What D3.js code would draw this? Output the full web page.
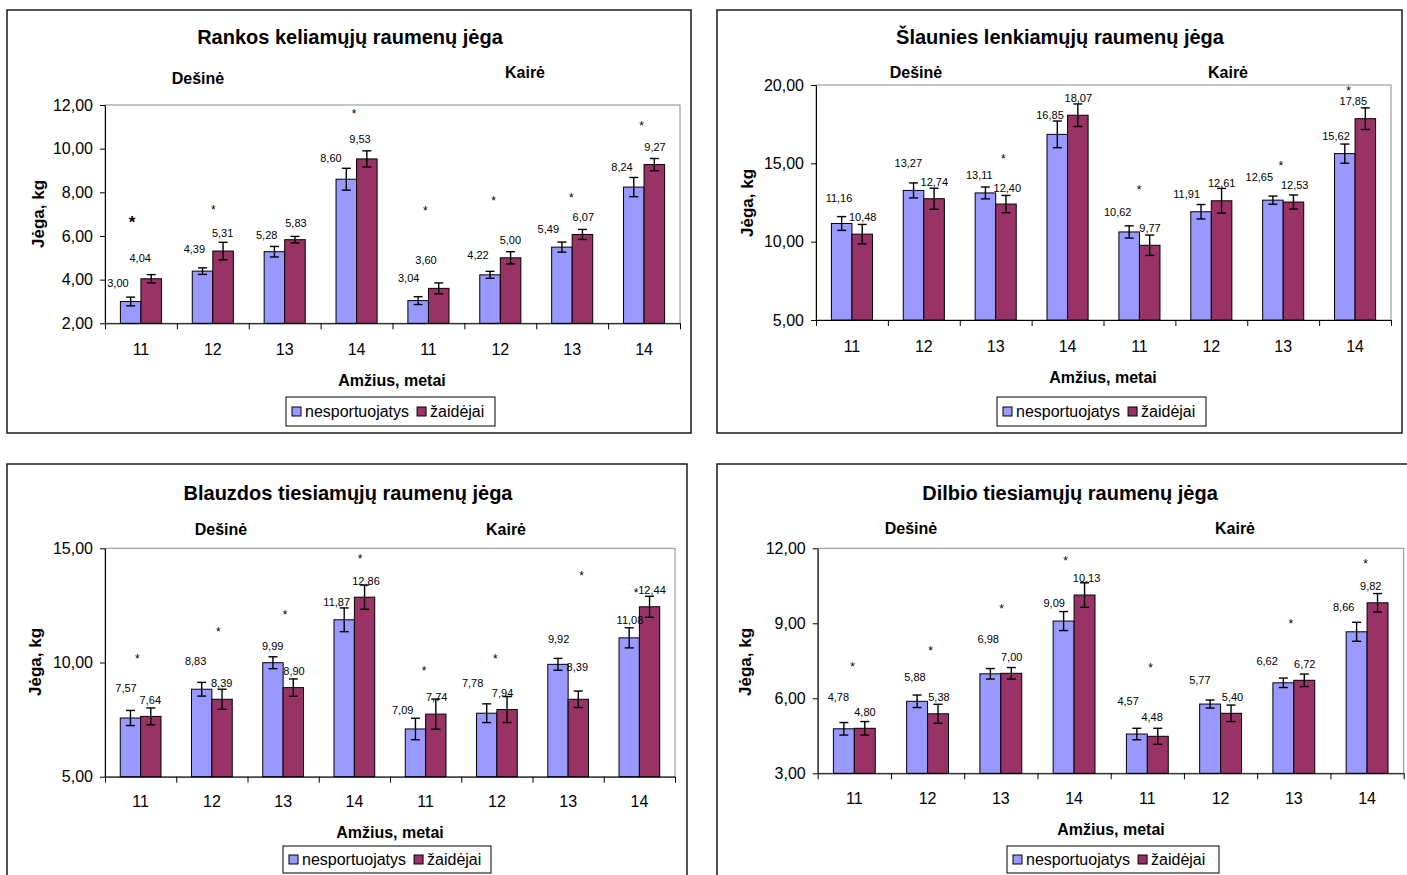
<!DOCTYPE html>
<html>
<head>
<meta charset="utf-8">
<script src="https://cdn.jsdelivr.net/npm/d3@7"></script>
<style>
  body { margin: 0; background: #fff; }
  svg text { font-family: "Liberation Sans", Arial, Helvetica, sans-serif; fill: #000; }
</style>
</head>
<body>
<svg id="chart" width="1407" height="875"></svg>
<script>
// ---- shared categories ----
const categories = ["11", "12", "13", "14", "11", "12", "13", "14"];
const sideNames = ["Dešinė", "Kairė"];
const seriesNames = ["nesportuojatys", "žaidėjai"];
const xAxisTitle = "Amžius, metai";
const yAxisTitle = "Jėga, kg";

// ---- Rankos keliamųjų raumenų jėga ----
const rankNesp    = [3.00, 4.39, 5.28, 8.60, 3.04, 4.22, 5.49, 8.24];
const rankZaid    = [4.04, 5.31, 5.83, 9.53, 3.60, 5.00, 6.07, 9.27];
const rankNespErr = [0.20, 0.15, 0.24, 0.50, 0.18, 0.16, 0.23, 0.44];
const rankZaidErr = [0.19, 0.40, 0.15, 0.37, 0.25, 0.28, 0.23, 0.28];
const rankTicks   = [2, 4, 6, 8, 10, 12];

// ---- Šlaunies lenkiamųjų raumenų jėga ----
const slNesp    = [11.16, 13.27, 13.11, 16.85, 10.62, 11.91, 12.65, 15.62];
const slZaid    = [10.48, 12.74, 12.40, 18.07, 9.77, 12.61, 12.53, 17.85];
const slNespErr = [0.44, 0.48, 0.38, 0.85, 0.39, 0.46, 0.26, 0.61];
const slZaidErr = [0.62, 0.67, 0.55, 0.72, 0.65, 0.79, 0.45, 0.69];
const slTicks   = [5, 10, 15, 20];

// ---- Blauzdos tiesiamųjų raumenų jėga ----
const blNesp    = [7.57, 8.83, 9.99, 11.87, 7.09, 7.78, 9.92, 11.08];
const blZaid    = [7.64, 8.39, 8.90, 12.86, 7.74, 7.94, 8.39, 12.44];
const blNespErr = [0.33, 0.30, 0.26, 0.52, 0.47, 0.41, 0.26, 0.44];
const blZaidErr = [0.37, 0.44, 0.38, 0.53, 0.66, 0.57, 0.36, 0.46];
const blTicks   = [5, 10, 15];

// ---- Dilbio tiesiamųjų raumenų jėga ----
const dbNesp    = [4.78, 5.88, 6.98, 9.09, 4.57, 5.77, 6.62, 8.66];
const dbZaid    = [4.80, 5.38, 7.00, 10.13, 4.48, 5.40, 6.72, 9.82];
const dbNespErr = [0.25, 0.25, 0.21, 0.38, 0.23, 0.16, 0.19, 0.38];
const dbZaidErr = [0.27, 0.38, 0.23, 0.49, 0.32, 0.33, 0.25, 0.37];
const dbTicks   = [3, 6, 9, 12];

// ---- annotation anchors in chart units: [category position, value height] ----
const rankNespLabelAt = [[0.18,3.86],[1.243,5.42],[2.25,6.06],[3.144,9.56],[4.225,4.06],[5.19,5.13],[6.168,6.33],[7.193,9.15]];
const rankZaidLabelAt = [[0.49,5.00],[1.637,6.12],[2.657,6.61],[3.548,10.44],[4.466,4.90],[5.64,5.82],[6.655,6.88],[7.652,10.06]];
const rankStars = [[0.375,6.83,1],[1.507,7.34],[3.464,11.74],[4.456,7.26],[5.408,7.72],[6.488,7.86],[7.467,11.16]];

const slNespLabelAt = [[0.32,12.81],[1.284,15.04],[2.272,14.26],[3.256,18.09],[4.197,11.87],[5.157,13.02],[6.168,14.11],[7.235,16.77]];
const slZaidLabelAt = [[0.65,11.57],[1.646,13.83],[2.662,13.43],[3.65,19.19],[4.647,10.87],[5.644,13.74],[6.66,13.64],[7.476,18.96]];
const slStars = [[2.606,15.47],[4.494,13.51],[6.466,15.0],[7.41,19.78]];

const blNespLabelAt = [[0.295,8.90],[1.272,10.07],[2.354,10.72],[3.252,12.65],[4.178,7.91],[5.16,9.09],[6.367,11.03],[7.368,11.86]];
const blZaidLabelAt = [[0.636,8.35],[1.638,9.09],[2.653,9.64],[3.663,13.57],[4.655,8.49],[5.58,8.66],[6.629,9.79],[7.677,13.16]];
const blStars = [[0.454,10.28],[1.59,11.45],[2.526,12.21],[3.579,14.66],[4.477,9.77],[5.478,10.28],[6.69,13.91],[7.453,13.16]];

const dbNespLabelAt = [[0.282,6.06],[1.328,6.86],[2.329,8.36],[3.229,9.80],[4.238,5.89],[5.217,6.73],[6.135,7.49],[7.181,9.64]];
const dbZaidLabelAt = [[0.645,5.44],[1.655,6.06],[2.648,7.66],[3.671,10.82],[4.566,5.26],[5.663,6.06],[6.649,7.37],[7.55,10.49]];
const dbStars = [[0.477,7.36],[1.542,8.0],[2.51,9.70],[3.384,11.6],[4.544,7.34],[6.458,9.10],[7.481,11.50]];

const colors = ["#9999FF", "#993366"];
const fmt = v => d3.format(".2f")(v).replace(".", ",");

const panels = [
  {
    title: "Rankos keliamųjų raumenų jėga",
    values: [rankNesp, rankZaid], errors: [rankNespErr, rankZaidErr],
    labelAt: [rankNespLabelAt, rankZaidLabelAt], stars: rankStars,
    domain: [2, 12], ticks: rankTicks,
    frame: { x: 7, y: 10, w: 684, h: 423 },
    plot: { x: 105, y: 105, w: 575, h: 218.3 },
    titleAt: [350, 37], sideAt: [[198, 78], [525, 72]], xTitleAt: [392, 380], xTickY: 349,
    legend: { x: 286, y: 397, w: 209, h: 29 }, yTitleAt: [38, 214]
  },
  {
    title: "Šlaunies lenkiamųjų raumenų jėga",
    values: [slNesp, slZaid], errors: [slNespErr, slZaidErr],
    labelAt: [slNespLabelAt, slZaidLabelAt], stars: slStars,
    domain: [5, 20], ticks: slTicks,
    frame: { x: 717, y: 10, w: 685, h: 423 },
    plot: { x: 816, y: 85, w: 575, h: 235 },
    titleAt: [1060, 37], sideAt: [[916, 72], [1228, 72]], xTitleAt: [1103, 377], xTickY: 346,
    legend: { x: 997, y: 397, w: 209, h: 29 }, yTitleAt: [747, 203]
  },
  {
    title: "Blauzdos tiesiamųjų raumenų jėga",
    values: [blNesp, blZaid], errors: [blNespErr, blZaidErr],
    labelAt: [blNespLabelAt, blZaidLabelAt], stars: blStars,
    domain: [5, 15], ticks: blTicks,
    frame: { x: 7, y: 464, w: 680, h: 430 },
    plot: { x: 105, y: 548.3, w: 570, h: 228.4 },
    titleAt: [348, 493], sideAt: [[221, 529], [506, 529]], xTitleAt: [390, 832], xTickY: 801,
    legend: { x: 283, y: 846, w: 208, h: 27 }, yTitleAt: [35, 662]
  },
  {
    title: "Dilbio tiesiamųjų raumenų jėga",
    values: [dbNesp, dbZaid], errors: [dbNespErr, dbZaidErr],
    labelAt: [dbNespLabelAt, dbZaidLabelAt], stars: dbStars,
    domain: [3, 12], ticks: dbTicks,
    frame: { x: 717, y: 464, w: 700, h: 430 },
    plot: { x: 817.7, y: 548.3, w: 586, h: 225 },
    titleAt: [1070, 493], sideAt: [[911, 528], [1235, 528]], xTitleAt: [1111, 829], xTickY: 798,
    legend: { x: 1007, y: 846, w: 212, h: 27 }, yTitleAt: [745, 662]
  }
];

const svg = d3.select("#chart");

function drawPanel(p) {
  const g = svg.append("g");
  const P = p.plot;

  // outer chart frame
  g.append("rect")
    .attr("x", p.frame.x).attr("y", p.frame.y)
    .attr("width", p.frame.w).attr("height", p.frame.h)
    .attr("fill", "#fff").attr("stroke", "#1a1a1a").attr("stroke-width", 1.5);

  // scales
  const idx = d3.range(categories.length);
  const x = d3.scaleBand().domain(idx).range([P.x, P.x + P.w]).padding(0);
  const xs = d3.scaleBand().domain([0, 1]).range([0, x.bandwidth()])
    .paddingInner(0).paddingOuter(0.75);
  const xc = d3.scaleLinear().domain([0, categories.length]).range([P.x, P.x + P.w]);
  const y = d3.scaleLinear().domain(p.domain).range([P.y + P.h, P.y]);

  // plot-area border
  g.append("rect")
    .attr("x", P.x).attr("y", P.y).attr("width", P.w).attr("height", P.h)
    .attr("fill", "none").attr("stroke", "#8c8c8c").attr("stroke-width", 1);

  // bars
  const bars = [];
  [0, 1].forEach(s => p.values[s].forEach((v, i) => bars.push({ s, i, v, e: p.errors[s][i] })));

  g.append("g").selectAll("rect").data(bars).join("rect")
    .attr("x", d => x(d.i) + xs(d.s))
    .attr("y", d => y(d.v))
    .attr("width", xs.bandwidth())
    .attr("height", d => y(p.domain[0]) - y(d.v))
    .attr("fill", d => colors[d.s])
    .attr("stroke", "#000").attr("stroke-width", 1);

  // error bars
  const eg = g.append("g").attr("stroke", "#000").attr("stroke-width", 1.4);
  const cap = 4.5;
  bars.forEach(d => {
    const cx = x(d.i) + xs(d.s) + xs.bandwidth() / 2;
    const y0 = y(d.v - d.e), y1 = y(d.v + d.e);
    eg.append("line").attr("x1", cx).attr("x2", cx).attr("y1", y0).attr("y2", y1);
    eg.append("line").attr("x1", cx - cap).attr("x2", cx + cap).attr("y1", y0).attr("y2", y0);
    eg.append("line").attr("x1", cx - cap).attr("x2", cx + cap).attr("y1", y1).attr("y2", y1);
  });

  // value labels
  const lg = g.append("g").attr("font-size", 11).attr("text-anchor", "middle").attr("fill", "#222");
  bars.forEach(d => {
    const at = p.labelAt[d.s][d.i];
    lg.append("text")
      .attr("x", xc(at[0]))
      .attr("y", y(at[1]) + 11 * 0.36)
      .text(fmt(d.v));
  });

  // significance markers
  const sg = g.append("g").attr("text-anchor", "middle");
  p.stars.forEach(st => {
    const big = st[2] === 1;
    const fs = big ? 17 : 12;
    sg.append("text")
      .attr("x", xc(st[0]))
      .attr("y", y(st[1]) + fs * 0.57)
      .attr("font-size", fs)
      .attr("font-weight", big ? "bold" : "normal")
      .text("*");
  });

  // y axis
  const yAxis = g.append("g")
    .attr("transform", `translate(${P.x},0)`)
    .call(d3.axisLeft(y).tickValues(p.ticks).tickFormat(fmt).tickSize(5).tickSizeOuter(0).tickPadding(7));
  yAxis.selectAll("text").attr("font-size", 16).attr("fill", "#000");
  yAxis.selectAll("line, path").attr("stroke", "#000");

  // x axis: boundary tick marks and category labels
  const baseY = P.y + P.h;
  const xTickAxis = g.append("g")
    .attr("transform", `translate(0,${baseY})`)
    .call(d3.axisBottom(xc).tickValues(d3.range(categories.length + 1)).tickSize(6).tickSizeOuter(0).tickFormat(""));
  xTickAxis.selectAll("line, path").attr("stroke", "#000");

  const xLab = g.append("g")
    .attr("transform", `translate(0,${baseY})`)
    .call(d3.axisBottom(x).tickSize(0).tickPadding(p.xTickY - baseY - 16 * 0.35).tickFormat(i => categories[i]));
  xLab.select(".domain").remove();
  xLab.selectAll("text").attr("font-size", 16).attr("fill", "#000");

  // titles
  g.append("text")
    .attr("x", p.titleAt[0]).attr("y", p.titleAt[1] + 20 * 0.36)
    .attr("text-anchor", "middle").attr("font-size", 20).attr("font-weight", "bold")
    .text(p.title);

  sideNames.forEach((nm, k) => {
    g.append("text")
      .attr("x", p.sideAt[k][0]).attr("y", p.sideAt[k][1] + 16 * 0.36)
      .attr("text-anchor", "middle").attr("font-size", 16).attr("font-weight", "bold")
      .text(nm);
  });

  g.append("text")
    .attr("x", p.xTitleAt[0]).attr("y", p.xTitleAt[1] + 16 * 0.36)
    .attr("text-anchor", "middle").attr("font-size", 16).attr("font-weight", "bold")
    .text(xAxisTitle);

  g.append("text")
    .attr("transform", `translate(${p.yTitleAt[0] + 17 * 0.36},${p.yTitleAt[1]}) rotate(-90)`)
    .attr("text-anchor", "middle").attr("font-size", 17).attr("font-weight", "bold")
    .text(yAxisTitle);

  // legend
  const L = p.legend;
  const leg = g.append("g");
  leg.append("rect")
    .attr("x", L.x).attr("y", L.y).attr("width", L.w).attr("height", L.h)
    .attr("fill", "#fff").attr("stroke", "#000").attr("stroke-width", 1);
  let cx = L.x + 6;
  const midY = L.y + L.h / 2;
  seriesNames.forEach((nm, k) => {
    leg.append("rect")
      .attr("x", cx).attr("y", midY - 4.5).attr("width", 9).attr("height", 9)
      .attr("fill", colors[k]).attr("stroke", "#000").attr("stroke-width", 1);
    const t = leg.append("text")
      .attr("x", cx + 13).attr("y", midY + 16 * 0.36)
      .attr("font-size", 16)
      .text(nm);
    cx += 13 + t.node().getComputedTextLength() + 8;
  });
}

panels.forEach(drawPanel);
</script>
</body>
</html>
